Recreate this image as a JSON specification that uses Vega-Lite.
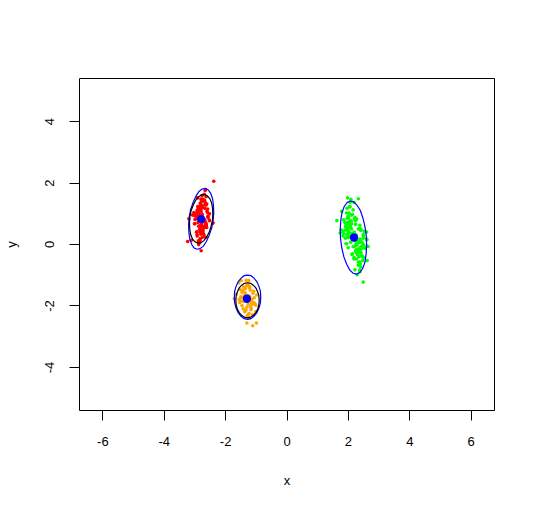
{
"$schema":"https://vega.github.io/schema/vega-lite/v6.json",
"width":415,"height":332,"autosize":"none",
"padding":{"left":79,"top":78,"right":41,"bottom":99},
"config":{"view":{"stroke":"black","strokeWidth":1},
"axis":{"grid":false,"domain":false,"tickColor":"black","tickSize":10,"tickWidth":1,"labelColor":"black","titleColor":"black","labelFont":"Liberation Sans","titleFont":"Liberation Sans","labelFontSize":13,"titleFontSize":13,"titleFontWeight":"normal","labelExpr":"replace(datum.label, '−', '-')"}},
"datasets":{
"points":[
{"c":"1","x":-2.83,"y":0.94},{"c":"1","x":-2.75,"y":0.34},{"c":"1","x":-2.57,"y":1.14},{"c":"1","x":-2.98,"y":0.66},{"c":"1","x":-2.67,"y":1.42},{"c":"1","x":-2.89,"y":0.86},{"c":"1","x":-2.6,"y":0.54},{"c":"1","x":-2.68,"y":1.62},{"c":"1","x":-2.81,"y":0.18},{"c":"1","x":-3.02,"y":1.02},
{"c":"1","x":-2.66,"y":0.78},{"c":"1","x":-2.76,"y":1.26},{"c":"1","x":-2.83,"y":0.46},{"c":"1","x":-2.59,"y":1.06},{"c":"1","x":-2.88,"y":0.7},{"c":"1","x":-2.64,"y":1.34},{"c":"1","x":-2.86,"y":-0.02},{"c":"1","x":-2.92,"y":0.9},{"c":"1","x":-2.61,"y":0.62},{"c":"1","x":-2.83,"y":1.18},
{"c":"1","x":-2.72,"y":0.42},{"c":"1","x":-2.81,"y":0.82},{"c":"1","x":-2.9,"y":1.5},{"c":"1","x":-2.74,"y":0.5},{"c":"1","x":-2.51,"y":0.98},{"c":"1","x":-2.91,"y":0.26},{"c":"1","x":-2.87,"y":1.1},{"c":"1","x":-2.76,"y":0.74},{"c":"1","x":-2.89,"y":1.22},{"c":"1","x":-2.67,"y":0.58},
{"c":"1","x":-2.74,"y":0.96},{"c":"1","x":-2.93,"y":0.38},{"c":"1","x":-2.65,"y":1.3},{"c":"1","x":-2.62,"y":0.64},{"c":"1","x":-2.91,"y":0.88},{"c":"1","x":-2.87,"y":0.1},{"c":"1","x":-2.79,"y":1.08},{"c":"1","x":-2.68,"y":0.72},{"c":"1","x":-2.71,"y":1.4},{"c":"1","x":-2.98,"y":0.8},
{"c":"1","x":-2.66,"y":1.16},{"c":"1","x":-2.69,"y":0.3},{"c":"1","x":-2.87,"y":1.0},{"c":"1","x":-2.77,"y":0.52},{"c":"1","x":-2.75,"y":1.58},{"c":"1","x":-2.51,"y":0.76},{"c":"1","x":-2.78,"y":1.04},{"c":"1","x":-2.74,"y":0.44},{"c":"1","x":-2.99,"y":0.92},{"c":"1","x":-2.8,"y":0.6},
{"c":"1","x":-2.74,"y":1.24},{"c":"1","x":-2.73,"y":0.22},{"c":"1","x":-2.8,"y":1.12},{"c":"1","x":-2.63,"y":0.68},{"c":"1","x":-2.91,"y":0.84},{"c":"1","x":-2.79,"y":0.48},{"c":"1","x":-2.81,"y":1.32},{"c":"1","x":-2.71,"y":0.56},{"c":"1","x":-2.87,"y":1.2},{"c":"1","x":-2.79,"y":0.32},
{"c":"1","x":-2.56,"y":0.86},{"c":"1","x":-2.73,"y":1.46},{"c":"1","x":-2.77,"y":0.66},{"c":"1","x":-2.92,"y":0.4},{"c":"1","x":-2.92,"y":1.02},{"c":"1","x":-2.67,"y":0.74},{"c":"1","x":-2.65,"y":1.74},{"c":"1","x":-2.67,"y":0.54},{"c":"1","x":-2.88,"y":0.94},{"c":"1","x":-2.81,"y":0.14},
{"c":"1","x":-2.77,"y":0.62},{"c":"1","x":-2.91,"y":1.1},{"c":"1","x":-2.6,"y":1.3},{"c":"1","x":-2.91,"y":0.3},{"c":"1","x":-2.56,"y":0.9},{"c":"1","x":-2.81,"y":0.5},{"c":"1","x":-2.79,"y":1.46},{"c":"1","x":-2.51,"y":0.78},{"c":"1","x":-2.98,"y":0.98},{"c":"1","x":-2.82,"y":0.06},
{"c":"1","x":-2.74,"y":1.18},{"c":"1","x":-2.64,"y":0.7},{"c":"1","x":-2.91,"y":0.82},{"c":"1","x":-2.63,"y":1.26},{"c":"1","x":-2.86,"y":0.58},{"c":"1","x":-2.57,"y":1.02},{"c":"1","x":-3.06,"y":0.94},{"c":"1","x":-2.81,"y":0.38},{"c":"1","x":-2.77,"y":1.38},{"c":"1","x":-2.69,"y":0.54},
{"c":"1","x":-2.88,"y":1.14},{"c":"1","x":-2.79,"y":0.74},{"c":"1","x":-2.63,"y":0.22},{"c":"1","x":-2.86,"y":1.06},{"c":"1","x":-2.62,"y":1.54},{"c":"1","x":-3.0,"y":0.66},{"c":"1","x":-2.73,"y":0.46},{"c":"1","x":-2.79,"y":0.92},{"c":"1","x":-2.71,"y":0.34},{"c":"1","x":-2.81,"y":1.22},
{"c":"1","x":-2.37,"y":2.04},{"c":"1","x":-2.78,"y":-0.22},{"c":"1","x":-3.22,"y":0.08},{"c":"1","x":-3.18,"y":0.82},{"c":"1","x":-2.39,"y":0.68},{"c":"1","x":-2.64,"y":1.77},{"c":"1","x":-3.1,"y":0.12},
{"c":"2","x":-1.38,"y":-1.69},{"c":"2","x":-1.16,"y":-2.14},{"c":"2","x":-1.07,"y":-1.54},{"c":"2","x":-1.52,"y":-1.9},{"c":"2","x":-1.25,"y":-1.33},{"c":"2","x":-1.43,"y":-1.75},{"c":"2","x":-1.0,"y":-1.99},{"c":"2","x":-1.31,"y":-1.18},{"c":"2","x":-1.22,"y":-2.26},{"c":"2","x":-1.63,"y":-1.63},
{"c":"2","x":-1.13,"y":-1.81},{"c":"2","x":-1.34,"y":-1.45},{"c":"2","x":-1.29,"y":-2.05},{"c":"2","x":-1.09,"y":-1.6},{"c":"2","x":-1.4,"y":-1.87},{"c":"2","x":-1.2,"y":-1.39},{"c":"2","x":-1.24,"y":-2.41},{"c":"2","x":-1.49,"y":-1.72},{"c":"2","x":-1.04,"y":-1.93},{"c":"2","x":-1.42,"y":-1.51},
{"c":"2","x":-1.15,"y":-2.08},{"c":"2","x":-1.33,"y":-1.78},{"c":"2","x":-1.56,"y":-1.27},{"c":"2","x":-1.18,"y":-2.02},{"c":"2","x":-0.97,"y":-1.66},{"c":"2","x":-1.36,"y":-2.2},{"c":"2","x":-1.45,"y":-1.57},{"c":"2","x":-1.25,"y":-1.84},{"c":"2","x":-1.51,"y":-1.48},{"c":"2","x":-1.11,"y":-1.96},
{"c":"2","x":-1.26,"y":-1.68},{"c":"2","x":-1.41,"y":-2.11},{"c":"2","x":-1.21,"y":-1.42},{"c":"2","x":-1.06,"y":-1.92},{"c":"2","x":-1.47,"y":-1.74},{"c":"2","x":-1.27,"y":-2.32},{"c":"2","x":-1.35,"y":-1.59},{"c":"2","x":-1.14,"y":-1.86},{"c":"2","x":-1.3,"y":-1.35},{"c":"2","x":-1.54,"y":-1.8},
{"c":"2","x":-1.29,"y":-2.57},{"c":"2","x":-1.1,"y":-2.66},{"c":"2","x":-0.98,"y":-2.57},{"c":"2","x":-1.23,"y":-2.39},{"c":"2","x":-1.48,"y":-1.19},{"c":"2","x":-1.23,"y":-1.19},{"c":"2","x":-1.7,"y":-1.78},
{"c":"2","x":-1.2,"y":-1.7},{"c":"2","x":-1.35,"y":-1.62},{"c":"2","x":-1.15,"y":-1.9},{"c":"2","x":-1.45,"y":-2.0},{"c":"2","x":-1.05,"y":-1.75},{"c":"2","x":-1.32,"y":-2.15},{"c":"2","x":-1.18,"y":-1.5},{"c":"2","x":-1.5,"y":-1.85},{"c":"2","x":-1.0,"y":-2.2},{"c":"2","x":-1.25,"y":-1.95},{"c":"2","x":-1.4,"y":-1.4},{"c":"2","x":-1.1,"y":-2.3},
{"c":"3","x":2.08,"y":0.36},{"c":"3","x":2.42,"y":-0.39},{"c":"3","x":2.39,"y":0.61},{"c":"3","x":1.96,"y":0.01},{"c":"3","x":2.15,"y":0.96},{"c":"3","x":2.04,"y":0.26},{"c":"3","x":2.56,"y":-0.14},{"c":"3","x":2.07,"y":1.21},{"c":"3","x":2.38,"y":-0.59},{"c":"3","x":1.78,"y":0.46},
{"c":"3","x":2.39,"y":0.16},{"c":"3","x":2.08,"y":0.76},{"c":"3","x":2.25,"y":-0.24},{"c":"3","x":2.39,"y":0.51},{"c":"3","x":2.09,"y":0.06},{"c":"3","x":2.23,"y":0.86},{"c":"3","x":2.39,"y":-0.84},{"c":"3","x":1.97,"y":0.31},{"c":"3","x":2.51,"y":-0.04},{"c":"3","x":2.0,"y":0.66},
{"c":"3","x":2.43,"y":-0.29},{"c":"3","x":2.16,"y":0.21},{"c":"3","x":1.8,"y":1.06},{"c":"3","x":2.38,"y":-0.19},{"c":"3","x":2.54,"y":0.41},{"c":"3","x":2.2,"y":-0.49},{"c":"3","x":1.97,"y":0.56},{"c":"3","x":2.27,"y":0.11},{"c":"3","x":1.9,"y":0.71},{"c":"3","x":2.44,"y":-0.09},
{"c":"3","x":2.21,"y":0.39},{"c":"3","x":2.13,"y":-0.34},{"c":"3","x":2.21,"y":0.81},{"c":"3","x":2.5,"y":-0.02},{"c":"3","x":1.98,"y":0.29},{"c":"3","x":2.34,"y":-0.69},{"c":"3","x":2.09,"y":0.54},{"c":"3","x":2.39,"y":0.09},{"c":"3","x":2.11,"y":0.94},{"c":"3","x":1.92,"y":0.19},
{"c":"3","x":2.25,"y":0.64},{"c":"3","x":2.51,"y":-0.44},{"c":"3","x":2.01,"y":0.44},{"c":"3","x":2.32,"y":-0.17},{"c":"3","x":1.97,"y":1.16},{"c":"3","x":2.62,"y":0.14},{"c":"3","x":2.12,"y":0.49},{"c":"3","x":2.39,"y":-0.27},{"c":"3","x":1.86,"y":0.34},{"c":"3","x":2.24,"y":-0.07},
{"c":"3","x":2.11,"y":0.74},{"c":"3","x":2.48,"y":-0.54},{"c":"3","x":2.07,"y":0.59},{"c":"3","x":2.47,"y":0.04},{"c":"3","x":2.01,"y":0.24},{"c":"3","x":2.31,"y":-0.22},{"c":"3","x":1.98,"y":0.84},{"c":"3","x":2.39,"y":-0.12},{"c":"3","x":1.93,"y":0.69},{"c":"3","x":2.36,"y":-0.42},
{"c":"3","x":2.5,"y":0.26},{"c":"3","x":2.04,"y":1.01},{"c":"3","x":2.27,"y":0.01},{"c":"3","x":2.15,"y":-0.32},{"c":"3","x":1.93,"y":0.46},{"c":"3","x":2.39,"y":0.11},{"c":"3","x":2.07,"y":1.36},{"c":"3","x":2.47,"y":-0.14},{"c":"3","x":2.01,"y":0.36},{"c":"3","x":2.4,"y":-0.64},
{"c":"3","x":2.29,"y":-0.04},{"c":"3","x":1.92,"y":0.56},{"c":"3","x":2.29,"y":0.81},{"c":"3","x":2.2,"y":-0.44},{"c":"3","x":2.5,"y":0.31},{"c":"3","x":2.27,"y":-0.19},{"c":"3","x":1.96,"y":1.01},{"c":"3","x":2.61,"y":0.16},{"c":"3","x":1.85,"y":0.41},{"c":"3","x":2.42,"y":-0.74},
{"c":"3","x":2.12,"y":0.66},{"c":"3","x":2.44,"y":0.06},{"c":"3","x":2.02,"y":0.21},{"c":"3","x":2.25,"y":0.76},{"c":"3","x":2.17,"y":-0.09},{"c":"3","x":2.43,"y":0.46},{"c":"3","x":1.75,"y":0.36},{"c":"3","x":2.31,"y":-0.34},{"c":"3","x":2.01,"y":0.91},{"c":"3","x":2.43,"y":-0.14},
{"c":"3","x":1.94,"y":0.61},{"c":"3","x":2.21,"y":0.11},{"c":"3","x":2.63,"y":-0.54},{"c":"3","x":2.0,"y":0.51},{"c":"3","x":2.17,"y":1.11},{"c":"3","x":1.94,"y":0.01},{"c":"3","x":2.4,"y":-0.24},{"c":"3","x":2.15,"y":0.34},{"c":"3","x":2.47,"y":-0.39},{"c":"3","x":2.02,"y":0.71},
{"c":"3","x":2.27,"y":0.29},{"c":"3","x":2.01,"y":-0.12},{"c":"3","x":2.42,"y":0.44},{"c":"3","x":2.02,"y":0.86},{"c":"3","x":2.29,"y":-0.29},{"c":"3","x":1.84,"y":0.26},{"c":"3","x":2.35,"y":0.04},{"c":"3","x":2.09,"y":0.64},{"c":"3","x":2.5,"y":0.19},{"c":"3","x":2.28,"y":-0.49},
{"c":"3","x":2.34,"y":0.49},{"c":"3","x":1.86,"y":0.79},{"c":"3","x":2.34,"y":-0.2},{"c":"3","x":2.02,"y":0.39},{"c":"3","x":2.62,"y":-0.07},{"c":"3","x":2.05,"y":1.21},{"c":"3","x":2.32,"y":0.09},{"c":"3","x":1.97,"y":0.54},{"c":"3","x":2.35,"y":-0.59},{"c":"3","x":2.09,"y":0.24},
{"c":"3","x":2.5,"y":-1.24},{"c":"3","x":1.64,"y":0.76},{"c":"3","x":2.34,"y":1.47},{"c":"3","x":1.99,"y":1.5},{"c":"3","x":2.66,"y":-0.08},{"c":"3","x":2.61,"y":0.39},{"c":"3","x":2.1,"y":1.45},{"c":"3","x":2.2,"y":1.35},{"c":"3","x":2.23,"y":-0.84},{"c":"3","x":2.39,"y":-0.9},{"c":"3","x":2.3,"y":-1.0}
],
"ellipses":[
{"c":"1","k":"true","i":0,"x":-2.64,"y":1.81},{"c":"1","k":"true","i":1,"x":-2.55,"y":1.76},{"c":"1","k":"true","i":2,"x":-2.47,"y":1.65},{"c":"1","k":"true","i":3,"x":-2.41,"y":1.48},{"c":"1","k":"true","i":4,"x":-2.38,"y":1.27},{"c":"1","k":"true","i":5,"x":-2.37,"y":1.02},{"c":"1","k":"true","i":6,"x":-2.39,"y":0.77},{"c":"1","k":"true","i":7,"x":-2.44,"y":0.51},{"c":"1","k":"true","i":8,"x":-2.52,"y":0.28},{"c":"1","k":"true","i":9,"x":-2.61,"y":0.08},{"c":"1","k":"true","i":10,"x":-2.71,"y":-0.07},{"c":"1","k":"true","i":11,"x":-2.82,"y":-0.15},{"c":"1","k":"true","i":12,"x":-2.92,"y":-0.17},{"c":"1","k":"true","i":13,"x":-3.02,"y":-0.12},{"c":"1","k":"true","i":14,"x":-3.09,"y":-0.01},{"c":"1","k":"true","i":15,"x":-3.15,"y":0.16},{"c":"1","k":"true","i":16,"x":-3.18,"y":0.37},{"c":"1","k":"true","i":17,"x":-3.19,"y":0.62},{"c":"1","k":"true","i":18,"x":-3.17,"y":0.88},{"c":"1","k":"true","i":19,"x":-3.12,"y":1.13},{"c":"1","k":"true","i":20,"x":-3.04,"y":1.36},{"c":"1","k":"true","i":21,"x":-2.95,"y":1.56},{"c":"1","k":"true","i":22,"x":-2.85,"y":1.71},{"c":"1","k":"true","i":23,"x":-2.75,"y":1.79},{"c":"1","k":"true","i":24,"x":-2.64,"y":1.81},
{"c":"1","k":"est","i":0,"x":-2.67,"y":1.61},{"c":"1","k":"est","i":1,"x":-2.58,"y":1.57},{"c":"1","k":"est","i":2,"x":-2.5,"y":1.48},{"c":"1","k":"est","i":3,"x":-2.44,"y":1.34},{"c":"1","k":"est","i":4,"x":-2.41,"y":1.17},{"c":"1","k":"est","i":5,"x":-2.4,"y":0.97},{"c":"1","k":"est","i":6,"x":-2.41,"y":0.77},{"c":"1","k":"est","i":7,"x":-2.46,"y":0.57},{"c":"1","k":"est","i":8,"x":-2.52,"y":0.38},{"c":"1","k":"est","i":9,"x":-2.6,"y":0.23},{"c":"1","k":"est","i":10,"x":-2.69,"y":0.11},{"c":"1","k":"est","i":11,"x":-2.79,"y":0.04},{"c":"1","k":"est","i":12,"x":-2.89,"y":0.03},{"c":"1","k":"est","i":13,"x":-2.98,"y":0.07},{"c":"1","k":"est","i":14,"x":-3.06,"y":0.16},{"c":"1","k":"est","i":15,"x":-3.12,"y":0.3},{"c":"1","k":"est","i":16,"x":-3.15,"y":0.47},{"c":"1","k":"est","i":17,"x":-3.16,"y":0.67},{"c":"1","k":"est","i":18,"x":-3.15,"y":0.87},{"c":"1","k":"est","i":19,"x":-3.11,"y":1.08},{"c":"1","k":"est","i":20,"x":-3.04,"y":1.26},{"c":"1","k":"est","i":21,"x":-2.96,"y":1.42},{"c":"1","k":"est","i":22,"x":-2.87,"y":1.53},{"c":"1","k":"est","i":23,"x":-2.77,"y":1.6},{"c":"1","k":"est","i":24,"x":-2.67,"y":1.61},
{"c":"2","k":"true","i":0,"x":-1.27,"y":-1.01},{"c":"2","k":"true","i":1,"x":-1.16,"y":-1.03},{"c":"2","k":"true","i":2,"x":-1.06,"y":-1.11},{"c":"2","k":"true","i":3,"x":-0.97,"y":-1.22},{"c":"2","k":"true","i":4,"x":-0.9,"y":-1.37},{"c":"2","k":"true","i":5,"x":-0.85,"y":-1.54},{"c":"2","k":"true","i":6,"x":-0.84,"y":-1.73},{"c":"2","k":"true","i":7,"x":-0.85,"y":-1.92},{"c":"2","k":"true","i":8,"x":-0.9,"y":-2.09},{"c":"2","k":"true","i":9,"x":-0.97,"y":-2.24},{"c":"2","k":"true","i":10,"x":-1.06,"y":-2.35},{"c":"2","k":"true","i":11,"x":-1.16,"y":-2.43},{"c":"2","k":"true","i":12,"x":-1.27,"y":-2.45},{"c":"2","k":"true","i":13,"x":-1.38,"y":-2.43},{"c":"2","k":"true","i":14,"x":-1.48,"y":-2.35},{"c":"2","k":"true","i":15,"x":-1.57,"y":-2.24},{"c":"2","k":"true","i":16,"x":-1.64,"y":-2.09},{"c":"2","k":"true","i":17,"x":-1.69,"y":-1.92},{"c":"2","k":"true","i":18,"x":-1.7,"y":-1.73},{"c":"2","k":"true","i":19,"x":-1.69,"y":-1.54},{"c":"2","k":"true","i":20,"x":-1.64,"y":-1.37},{"c":"2","k":"true","i":21,"x":-1.57,"y":-1.22},{"c":"2","k":"true","i":22,"x":-1.48,"y":-1.11},{"c":"2","k":"true","i":23,"x":-1.38,"y":-1.03},{"c":"2","k":"true","i":24,"x":-1.27,"y":-1.01},
{"c":"2","k":"est","i":0,"x":-1.27,"y":-1.26},{"c":"2","k":"est","i":1,"x":-1.17,"y":-1.28},{"c":"2","k":"est","i":2,"x":-1.08,"y":-1.34},{"c":"2","k":"est","i":3,"x":-1.0,"y":-1.43},{"c":"2","k":"est","i":4,"x":-0.94,"y":-1.55},{"c":"2","k":"est","i":5,"x":-0.9,"y":-1.68},{"c":"2","k":"est","i":6,"x":-0.89,"y":-1.83},{"c":"2","k":"est","i":7,"x":-0.9,"y":-1.98},{"c":"2","k":"est","i":8,"x":-0.94,"y":-2.12},{"c":"2","k":"est","i":9,"x":-1.0,"y":-2.23},{"c":"2","k":"est","i":10,"x":-1.08,"y":-2.32},{"c":"2","k":"est","i":11,"x":-1.17,"y":-2.38},{"c":"2","k":"est","i":12,"x":-1.27,"y":-2.4},{"c":"2","k":"est","i":13,"x":-1.37,"y":-2.38},{"c":"2","k":"est","i":14,"x":-1.46,"y":-2.32},{"c":"2","k":"est","i":15,"x":-1.54,"y":-2.23},{"c":"2","k":"est","i":16,"x":-1.6,"y":-2.12},{"c":"2","k":"est","i":17,"x":-1.64,"y":-1.98},{"c":"2","k":"est","i":18,"x":-1.65,"y":-1.83},{"c":"2","k":"est","i":19,"x":-1.64,"y":-1.68},{"c":"2","k":"est","i":20,"x":-1.6,"y":-1.55},{"c":"2","k":"est","i":21,"x":-1.54,"y":-1.43},{"c":"2","k":"est","i":22,"x":-1.46,"y":-1.34},{"c":"2","k":"est","i":23,"x":-1.37,"y":-1.28},{"c":"2","k":"est","i":24,"x":-1.27,"y":-1.26},
{"c":"3","k":"true","i":0,"x":2.08,"y":1.4},{"c":"3","k":"true","i":1,"x":2.19,"y":1.37},{"c":"3","k":"true","i":2,"x":2.3,"y":1.26},{"c":"3","k":"true","i":3,"x":2.41,"y":1.08},{"c":"3","k":"true","i":4,"x":2.49,"y":0.84},{"c":"3","k":"true","i":5,"x":2.56,"y":0.55},{"c":"3","k":"true","i":6,"x":2.6,"y":0.25},{"c":"3","k":"true","i":7,"x":2.61,"y":-0.06},{"c":"3","k":"true","i":8,"x":2.59,"y":-0.36},{"c":"3","k":"true","i":9,"x":2.55,"y":-0.61},{"c":"3","k":"true","i":10,"x":2.48,"y":-0.8},{"c":"3","k":"true","i":11,"x":2.39,"y":-0.93},{"c":"3","k":"true","i":12,"x":2.28,"y":-0.98},{"c":"3","k":"true","i":13,"x":2.17,"y":-0.95},{"c":"3","k":"true","i":14,"x":2.06,"y":-0.84},{"c":"3","k":"true","i":15,"x":1.96,"y":-0.66},{"c":"3","k":"true","i":16,"x":1.87,"y":-0.42},{"c":"3","k":"true","i":17,"x":1.8,"y":-0.13},{"c":"3","k":"true","i":18,"x":1.76,"y":0.18},{"c":"3","k":"true","i":19,"x":1.75,"y":0.48},{"c":"3","k":"true","i":20,"x":1.77,"y":0.78},{"c":"3","k":"true","i":21,"x":1.81,"y":1.03},{"c":"3","k":"true","i":22,"x":1.88,"y":1.22},{"c":"3","k":"true","i":23,"x":1.98,"y":1.35},{"c":"3","k":"true","i":24,"x":2.08,"y":1.4}
],
"centers":[{"c":"1","x":-2.78,"y":0.81},{"c":"2","x":-1.29,"y":-1.78},{"c":"3","x":2.2,"y":0.21}]
},
"layer":[
{"data":{"name":"points"},"mark":{"type":"circle","size":13,"opacity":1},
"encoding":{
"x":{"field":"x","type":"quantitative","scale":{"domain":[-6.76,6.76],"nice":false,"zero":false},"axis":{"values":[-6,-4,-2,0,2,4,6],"title":"x","labelPadding":15,"titlePadding":26}},
"y":{"field":"y","type":"quantitative","scale":{"domain":[-5.4,5.4],"nice":false,"zero":false},"axis":{"values":[-4,-2,0,2,4],"title":"y","labelAngle":-90,"labelAlign":"center","labelBaseline":"bottom","labelPadding":12.5,"titlePadding":25}},
"color":{"field":"c","type":"nominal","scale":{"domain":["1","2","3"],"range":["#FF0000","#FFA500","#00FF00"]},"legend":null}}},
{"data":{"name":"ellipses"},"mark":{"type":"line","strokeWidth":1.2},
"encoding":{"x":{"field":"x","type":"quantitative"},"y":{"field":"y","type":"quantitative"},"order":{"field":"i","type":"quantitative"},"detail":{"field":"c","type":"nominal"},
"color":{"field":"k","type":"nominal","scale":{"domain":["true","est"],"range":["#0000FF","#000000"]},"legend":null}}},
{"data":{"name":"centers"},"mark":{"type":"circle","size":70,"color":"#0000FF","opacity":1},
"encoding":{"x":{"field":"x","type":"quantitative"},"y":{"field":"y","type":"quantitative"}}}
],
"resolve":{"scale":{"color":"independent"}}
}
